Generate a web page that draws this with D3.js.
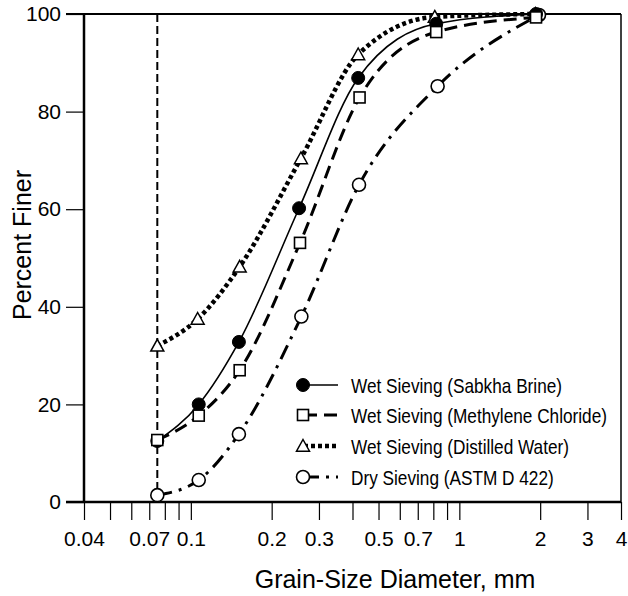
<!DOCTYPE html>
<html>
<head>
<meta charset="utf-8">
<script src="https://cdn.jsdelivr.net/npm/d3@7"></script>
<style>
  html, body { margin: 0; padding: 0; background: #fff; }
  svg { display: block; }
  text { font-family: "Liberation Sans", Arial, sans-serif; fill: #000; }
</style>
</head>
<body>
<svg id="chart" width="628" height="596"></svg>
<script>
// ---- data ----
const seriesNames = [
  "Wet Sieving (Sabkha Brine)",
  "Wet Sieving (Methylene Chloride)",
  "Wet Sieving (Distilled Water)",
  "Dry Sieving (ASTM D 422)"
];
const brineX  = [0.075, 0.107, 0.151, 0.253, 0.42, 0.82, 1.93];
const brineY  = [12.5, 20.0, 32.8, 60.2, 86.9, 98.0, 100];
const methX   = [0.075, 0.107, 0.152, 0.255, 0.425, 0.82, 1.93];
const methY   = [12.7, 17.7, 27.0, 53.1, 82.9, 96.3, 99.3];
const waterX  = [0.075, 0.106, 0.152, 0.257, 0.42, 0.81, 1.92];
const waterY  = [32.0, 37.5, 48.2, 70.4, 91.7, 99.4, 100];
const dryX    = [0.075, 0.107, 0.151, 0.258, 0.423, 0.83, 1.98];
const dryY    = [1.4, 4.5, 13.9, 38.0, 65.0, 85.2, 99.8];
const xTicks      = [0.04,0.05,0.06,0.07,0.08,0.09,0.1,0.2,0.3,0.4,0.5,0.6,0.7,0.8,0.9,1,2,3,4];
const xTickLabels = [0.04,0.07,0.1,0.2,0.3,0.5,0.7,1,2,3,4];
const yTicks      = [0,20,40,60,80,100];
const finesLimit  = 0.075;

// ---- layout ----
const L = 84, R = 621, T = 14, B = 502;
const svg = d3.select("#chart");
const x = d3.scaleLog().domain([0.04, 4]).range([L, R]);
const y = d3.scaleLinear().domain([0, 100]).range([B, T]);

// frame
svg.append("line").attr("x1", 66).attr("x2", R).attr("y1", T).attr("y2", T)
  .attr("stroke", "#000").attr("stroke-width", 2);
svg.append("line").attr("x1", R).attr("x2", R).attr("y1", T).attr("y2", B)
  .attr("stroke", "#000").attr("stroke-width", 1.5);

// y axis
const yAxis = d3.axisLeft(y).tickValues(yTicks).tickSize(18).tickPadding(5).tickFormat(d3.format("d"));
const gy = svg.append("g").attr("transform", `translate(${L},0)`).call(yAxis);
gy.select(".domain").attr("stroke-width", 2.5).attr("d", `M0,${T}V${B}`);
gy.selectAll(".tick line").attr("stroke-width", 1.2);
gy.selectAll("text").attr("font-size", 21).attr("font-family", "Liberation Sans, Arial, sans-serif");

// x axis
const xAxis = d3.axisBottom(x).tickValues(xTicks).tickSize(18).tickPadding(11)
  .tickFormat(d => xTickLabels.includes(d) ? String(d) : "");
const gx = svg.append("g").attr("transform", `translate(0,${B})`).call(xAxis);
gx.select(".domain").attr("stroke-width", 2.5).attr("d", `M66,0H${R}`);
gx.selectAll(".tick line").attr("stroke-width", 1.2);
gx.selectAll("text").attr("font-size", 21).attr("font-family", "Liberation Sans, Arial, sans-serif");

// vertical dashed line at 0.075 mm
svg.append("line")
  .attr("x1", x(finesLimit)).attr("x2", x(finesLimit))
  .attr("y1", T).attr("y2", B)
  .attr("stroke", "#000").attr("stroke-width", 2)
  .attr("stroke-dasharray", "8,4");

// series definitions
const series = [
  { xs: brineX, ys: brineY, dash: null, width: 1.6, marker: "fcircle" },
  { xs: methX,  ys: methY,  dash: "13,7", width: 3, marker: "square" },
  { xs: waterX, ys: waterY, dash: "4,3", width: 4.5, marker: "triangle" },
  { xs: dryX,   ys: dryY,   dash: "15,7,3,7", width: 3, marker: "ocircle" }
];

const line = d3.line().x(d => x(d[0])).y(d => y(d[1])).curve(d3.curveMonotoneX);

function drawMarker(g, type, cx, cy) {
  if (type === "fcircle") {
    g.append("circle").attr("cx", cx).attr("cy", cy).attr("r", 6.5)
      .attr("fill", "#000").attr("stroke", "#000").attr("stroke-width", 1);
  } else if (type === "ocircle") {
    g.append("circle").attr("cx", cx).attr("cy", cy).attr("r", 6.5)
      .attr("fill", "#fff").attr("stroke", "#000").attr("stroke-width", 1.6);
  } else if (type === "square") {
    g.append("rect").attr("x", cx - 5.5).attr("y", cy - 5.5).attr("width", 11).attr("height", 11)
      .attr("fill", "#fff").attr("stroke", "#000").attr("stroke-width", 1.6);
  } else if (type === "triangle") {
    const s = 6.5;
    g.append("path").attr("d", `M${cx},${cy - s}L${cx + s},${cy + s * 0.8}L${cx - s},${cy + s * 0.8}Z`)
      .attr("fill", "#fff").attr("stroke", "#000").attr("stroke-width", 1.5);
  }
}

// lines
series.forEach(s => {
  const pts = s.xs.map((v, i) => [v, s.ys[i]]);
  svg.append("path").datum(pts).attr("d", line)
    .attr("fill", "none").attr("stroke", "#000").attr("stroke-width", s.width)
    .attr("stroke-dasharray", s.dash);
});
// markers
const mg = svg.append("g");
[3, 2, 0, 1].forEach(k => {
  const s = series[k];
  s.xs.forEach((v, i) => drawMarker(mg, s.marker, x(v), y(s.ys[i])));
});

// legend
const lg = svg.append("g").attr("class", "legend");
const rows = [385, 415, 446, 477];
series.forEach((s, i) => {
  const cy = rows[i];
  lg.append("line").attr("x1", 304).attr("x2", 338).attr("y1", cy).attr("y2", cy)
    .attr("stroke", "#000").attr("stroke-width", s.width)
    .attr("stroke-dasharray", s.dash);
  drawMarker(lg, s.marker, 303, cy);
  lg.append("g").attr("transform", `translate(351,${cy + 7.5}) scale(0.82,1)`)
    .append("text").attr("x", 0).attr("y", 0).attr("font-size", 21).text(seriesNames[i]);
});

// axis titles
svg.append("text").attr("x", 395).attr("y", 588).attr("text-anchor", "middle")
  .attr("font-size", 25).text("Grain-Size Diameter, mm");
svg.append("text").attr("transform", "translate(31,245) rotate(-90)").attr("text-anchor", "middle")
  .attr("font-size", 25).text("Percent Finer");
</script>
</body>
</html>
